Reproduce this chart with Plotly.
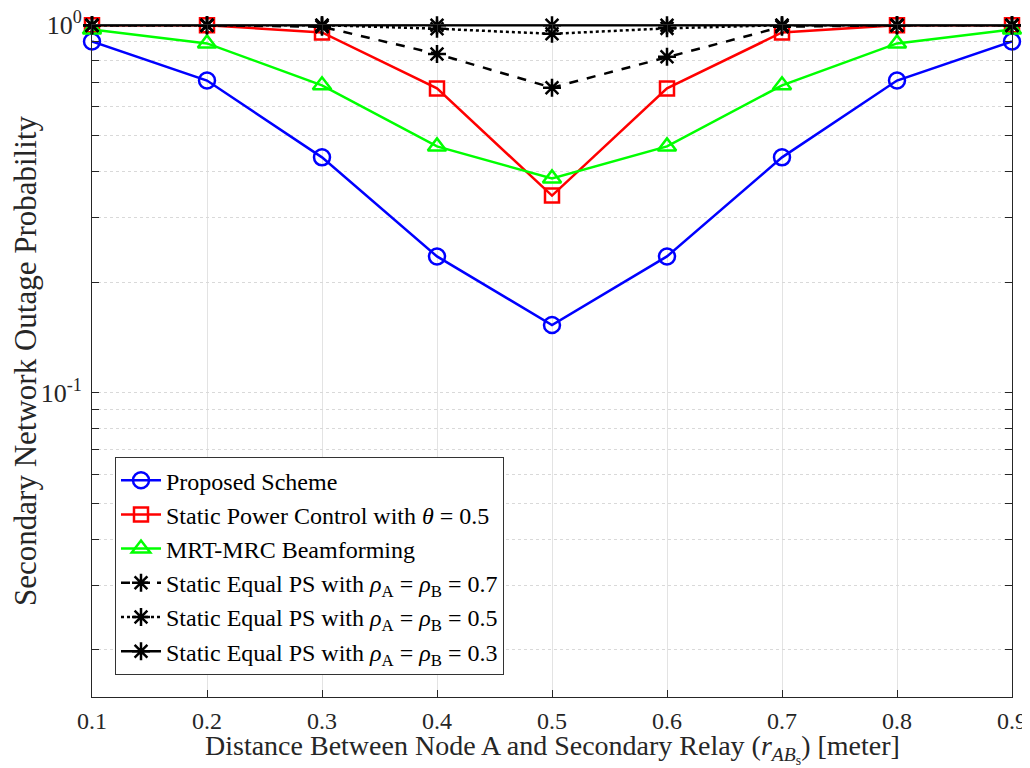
import plotly.graph_objects as go

x = [0.1, 0.2, 0.3, 0.4, 0.5, 0.6, 0.7, 0.8, 0.9]
proposed = [0.903, 0.707, 0.437, 0.235, 0.153, 0.235, 0.437, 0.707, 0.903]
static_pc = [1.0, 1.0, 0.955, 0.673, 0.344, 0.673, 0.955, 1.0, 1.0]
mrt_mrc = [0.973, 0.892, 0.686, 0.468, 0.383, 0.468, 0.686, 0.892, 0.973]
ps07 = [1.0, 1.0, 0.99, 0.835, 0.676, 0.82, 0.99, 1.0, 1.0]
ps05 = [1.0, 1.0, 1.0, 0.978, 0.947, 0.98, 1.0, 1.0, 1.0]
ps03 = [1.0, 1.0, 1.0, 1.0, 1.0, 1.0, 1.0, 1.0, 1.0]

names = [
    "Proposed Scheme",
    "Static Power Control with <i>θ</i> = 0.5",
    "MRT-MRC Beamforming",
    "Static Equal PS with <i>ρ</i><sub>A</sub> = <i>ρ</i><sub>B</sub> = 0.7",
    "Static Equal PS with <i>ρ</i><sub>A</sub> = <i>ρ</i><sub>B</sub> = 0.5",
    "Static Equal PS with <i>ρ</i><sub>A</sub> = <i>ρ</i><sub>B</sub> = 0.3",
]
series = [proposed, static_pc, mrt_mrc, ps07, ps05, ps03]
colors = ["#0000FF", "#FF0000", "#00FF00", "#000000", "#000000", "#000000"]
symbols = ["circle-open", "square-open", "triangle-up-open", "asterisk-open", "asterisk-open", "asterisk-open"]
sizes = [16, 14, 16, 15, 15, 15]
dashes = ["solid", "solid", "solid", "dash", "dot", "solid"]

ytick_vals = [0.02, 0.03, 0.04, 0.05, 0.06, 0.07, 0.08, 0.09, 0.1,
              0.2, 0.3, 0.4, 0.5, 0.6, 0.7, 0.8, 0.9, 1.0]
ytick_text = ["" for _ in ytick_vals]
ytick_text[ytick_vals.index(0.1)] = "10<sup>-1</sup>"
ytick_text[ytick_vals.index(1.0)] = "10<sup>0</sup>"
xtick_vals = x
xtick_text = ["0.1", "0.2", "0.3", "0.4", "0.5", "0.6", "0.7", "0.8", "0.9"]
x_title = "Distance Between Node A and Secondary Relay (<i>r</i><sub><i>AB</i><sub>s</sub></sub>) [meter]"
y_title = "Secondary Network Outage Probability"

fig = go.Figure()
for name, ys, c, s, sz, d in zip(names, series, colors, symbols, sizes, dashes):
    fig.add_trace(go.Scatter(
        x=x, y=ys, name=name, mode="lines+markers",
        line=dict(color=c, width=2.5, dash=d),
        marker=dict(symbol=s, size=sz, color=c, line=dict(color=c, width=2.5)),
        cliponaxis=False,
    ))

font_family = "Liberation Serif, Times New Roman, serif"
# page shows the figure offset by the 8px body margin
fig.update_layout(
    width=1022, height=760,
    margin=dict(l=84, r=18, t=17, b=71, autoexpand=False),
    paper_bgcolor="white", plot_bgcolor="white",
    font=dict(family=font_family, size=26, color="#262626"),
    showlegend=True,
    legend=dict(
        x=0.025, y=0.357, xanchor="left", yanchor="top",
        bgcolor="white", bordercolor="#333333", borderwidth=1,
        font=dict(family=font_family, size=24, color="#000000"),
        itemwidth=40, tracegroupgap=0,
    ),
)
fig.add_annotation(
    text=x_title, xref="paper", yref="paper", x=0.5, y=-0.108,
    xanchor="center", yanchor="bottom", showarrow=False,
    font=dict(size=28, family=font_family, color="#262626"),
)
fig.update_xaxes(
    range=[0.1, 0.9], tickvals=xtick_vals, ticktext=xtick_text,
    ticks="inside", ticklen=7, tickcolor="#262626",
    showline=True, linecolor="#262626", linewidth=1, mirror="ticks",
    showgrid=True, gridcolor="#e3e3e3", gridwidth=1,
    zeroline=False, automargin=False, ticklabelstandoff=2,
    tickfont=dict(size=24, family=font_family),
)
fig.update_yaxes(
    type="log", range=[-1.827, 0.0004], tickvals=ytick_vals, ticktext=ytick_text,
    ticks="inside", ticklen=7, tickcolor="#262626",
    showline=True, linecolor="#262626", linewidth=1, mirror="ticks",
    showgrid=True, gridcolor="#d9d9d9", gridwidth=1, griddash="dot",
    zeroline=False, automargin=False, ticklabelstandoff=4,
    ticklabeloverflow="allow",
    title=dict(text=y_title, font=dict(size=31, family=font_family), standoff=4),
    tickfont=dict(size=26, family=font_family),
)

fig.write_html("out.html")
